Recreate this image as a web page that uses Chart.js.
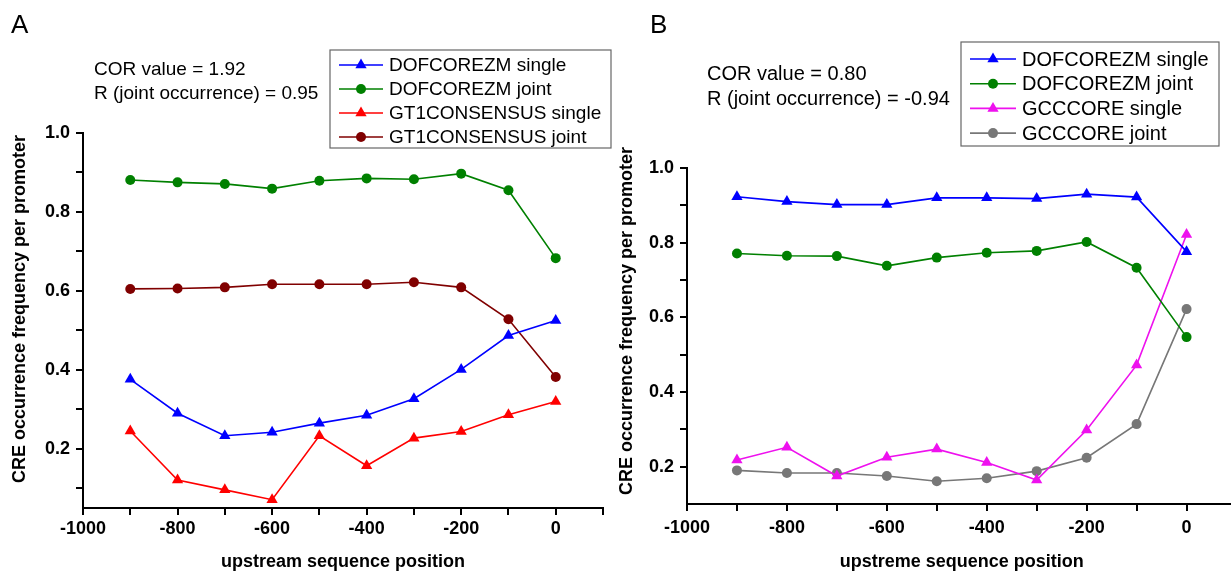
<!DOCTYPE html>
<html>
<head>
<meta charset="utf-8">
<script src="https://cdn.jsdelivr.net/npm/chart.js"></script>
<style>
    html, body { margin: 0; padding: 0; background: #fff; overflow: hidden; }
    #chartA { position: absolute; left: 0; top: 0; }
    #chartB { position: absolute; left: 615px; top: 0; }
</style>
</head>
<body>
<canvas id="chartA" width="615" height="573"></canvas>
<canvas id="chartB" width="628" height="573"></canvas>
<script>
// positions upstream (bp)
const positions = [-900, -800, -700, -600, -500, -400, -300, -200, -100, 0];

// panel A
const dofSingleA = [0.376, 0.290, 0.233, 0.242, 0.265, 0.285, 0.327, 0.401, 0.487, 0.525];
const dofJointA = [0.881, 0.875, 0.871, 0.859, 0.879, 0.885, 0.883, 0.897, 0.855, 0.683];
const gt1Single = [0.245, 0.121, 0.096, 0.071, 0.233, 0.157, 0.227, 0.244, 0.286, 0.320];
const gt1Joint = [0.605, 0.606, 0.609, 0.617, 0.617, 0.617, 0.622, 0.609, 0.528, 0.382];

// panel B
const dofSingleB = [0.923, 0.910, 0.902, 0.902, 0.920, 0.920, 0.918, 0.930, 0.922, 0.776];
const dofJointB = [0.771, 0.765, 0.764, 0.738, 0.760, 0.773, 0.778, 0.802, 0.733, 0.547];
const gccSingle = [0.218, 0.252, 0.175, 0.225, 0.247, 0.211, 0.164, 0.298, 0.472, 0.822];
const gccJoint = [0.190, 0.183, 0.183, 0.175, 0.161, 0.169, 0.188, 0.224, 0.314, 0.622];

// tick values
const xTicks = [-1000, -900, -800, -700, -600, -500, -400, -300, -200, -100, 0, 100];
const xTickLabels = ['-1000', '', '-800', '', '-600', '', '-400', '', '-200', '', '0', ''];
const yTicksA = [0.1, 0.2, 0.3, 0.4, 0.5, 0.6, 0.7, 0.8, 0.9, 1.0];
const yTicksB = [0.2, 0.3, 0.4, 0.5, 0.6, 0.7, 0.8, 0.9, 1.0];
const yTickLabels = { 0.2: '0.2', 0.4: '0.4', 0.6: '0.6', 0.8: '0.8', 1.0: '1.0' };

const FONT = '"Liberation Sans", Arial, sans-serif';

function toPoints(arr) {
    return positions.map(function (x, i) { return { x: x, y: arr[i] }; });
}

function series(label, arr, color, style) {
    return {
        label: label,
        data: toPoints(arr),
        borderColor: color,
        backgroundColor: color,
        pointBackgroundColor: color,
        pointBorderColor: color,
        pointBorderWidth: 0,
        borderWidth: 1.6,
        pointStyle: style,
        pointRadius: style === 'triangle' ? 6.5 : 5,
        pointHoverRadius: style === 'triangle' ? 6.5 : 5
    };
}

function drawMarker(ctx, style, x, y, color) {
    ctx.fillStyle = color;
    ctx.beginPath();
    if (style === 'triangle') {
        const r = 6.5;
        ctx.moveTo(x, y - r);
        ctx.lineTo(x + r * Math.sin(Math.PI * 2 / 3), y - r * Math.cos(Math.PI * 2 / 3));
        ctx.lineTo(x + r * Math.sin(Math.PI * 4 / 3), y - r * Math.cos(Math.PI * 4 / 3));
        ctx.closePath();
    } else {
        ctx.arc(x, y, 5, 0, Math.PI * 2);
    }
    ctx.fill();
}

// legend box, notes, y title and panel letter
const decorPlugin = {
    id: 'decor',
    afterDraw: function (chart) {
        const o = chart.options.plugins.decor;
        const ctx = chart.ctx;
        ctx.save();
        ctx.font = '26px ' + FONT;
        ctx.fillStyle = '#000';
        ctx.textBaseline = 'alphabetic';
        ctx.textAlign = 'left';
        ctx.fillText(o.letter, o.letterX, 33);

        // y axis title
        ctx.save();
        ctx.translate(o.yTitleX, o.yTitleY);
        ctx.rotate(-Math.PI / 2);
        ctx.font = 'bold 18px ' + FONT;
        ctx.textAlign = 'center';
        ctx.textBaseline = 'middle';
        ctx.fillText('CRE occurrence frequency per promoter', 0, 0);
        ctx.restore();

        ctx.font = o.fontSize + 'px ' + FONT;
        ctx.textBaseline = 'middle';
        o.notes.forEach(function (t, i) {
            ctx.fillText(t, o.noteX, o.noteY + i * o.noteGap);
        });

        const b = o.box;
        ctx.strokeStyle = '#666';
        ctx.lineWidth = 1.2;
        ctx.strokeRect(b.x, b.y, b.w, b.h);
        chart.data.datasets.forEach(function (ds, i) {
            const y = b.rowY + i * b.rowGap;
            ctx.strokeStyle = ds.borderColor;
            ctx.lineWidth = 1.6;
            ctx.beginPath();
            ctx.moveTo(b.lineX, y);
            ctx.lineTo(b.lineX + b.lineW, y);
            ctx.stroke();
            drawMarker(ctx, ds.pointStyle, b.lineX + b.lineW / 2, y, ds.borderColor);
            ctx.fillStyle = '#000';
            ctx.fillText(ds.label, b.textX, y + 1);
        });
        ctx.restore();
    }
};

function makeOptions(cfg) {
    return {
        responsive: false,
        animation: false,
        layout: { padding: { top: cfg.top, right: cfg.right, left: 0, bottom: 0 } },
        plugins: {
            legend: { display: false },
            tooltip: { enabled: false },
            decor: cfg.decor
        },
        scales: {
            x: {
                type: 'linear',
                min: -1000,
                max: 100,
                afterBuildTicks: function (scale) {
                    scale.ticks = xTicks.map(function (v) { return { value: v }; });
                },
                afterFit: function (scale) { scale.height = cfg.xHeight; },
                ticks: {
                    autoSkip: false,
                    maxRotation: 0,
                    padding: cfg.xPad,
                    color: '#000',
                    font: { family: FONT, size: 18, weight: 'bold' },
                    callback: function (v) { return xTickLabels[xTicks.indexOf(v)]; }
                },
                grid: { drawOnChartArea: false, tickLength: 7, color: '#000', lineWidth: 2 },
                border: { display: true, color: '#000', width: 2 },
                title: {
                    display: true,
                    text: cfg.xTitle,
                    color: '#000',
                    padding: 0,
                    font: { family: FONT, size: 18, weight: 'bold' }
                }
            },
            y: {
                min: cfg.yMin,
                max: 1.0,
                afterBuildTicks: function (scale) {
                    scale.ticks = cfg.yTicks.map(function (v) { return { value: v }; });
                },
                afterFit: function (scale) { scale.width = cfg.yWidth; },
                ticks: {
                    autoSkip: false,
                    padding: 6,
                    color: '#000',
                    font: { family: FONT, size: 18, weight: 'bold' },
                    callback: function (v) { return yTickLabels[v.toFixed(1) * 1] || ''; }
                },
                grid: { drawOnChartArea: false, tickLength: 7, color: '#000', lineWidth: 2 },
                border: { display: true, color: '#000', width: 2 }
            }
        }
    };
}

new Chart(document.getElementById('chartA').getContext('2d'), {
    type: 'line',
    data: {
        datasets: [
            series('DOFCOREZM single', dofSingleA, '#0000ff', 'triangle'),
            series('DOFCOREZM joint', dofJointA, '#008000', 'circle'),
            series('GT1CONSENSUS single', gt1Single, '#ff0000', 'triangle'),
            series('GT1CONSENSUS joint', gt1Joint, '#800000', 'circle')
        ]
    },
    options: makeOptions({
        top: 133, right: 12, xHeight: 65, yWidth: 83, yMin: 0.05, yTicks: yTicksA,
        xPad: 3, xTitle: 'upstream sequence position',
        decor: {
            letter: 'A', letterX: 11, fontSize: 19, yTitleX: 20, yTitleY: 309,
            notes: ['COR value = 1.92', 'R (joint occurrence) = 0.95'],
            noteX: 94, noteY: 70, noteGap: 24,
            box: { x: 330, y: 50, w: 281, h: 98, rowY: 65, rowGap: 24, lineX: 339, lineW: 44, textX: 389 }
        }
    }),
    plugins: [decorPlugin]
});

new Chart(document.getElementById('chartB').getContext('2d'), {
    type: 'line',
    data: {
        datasets: [
            series('DOFCOREZM single', dofSingleB, '#0000ff', 'triangle'),
            series('DOFCOREZM joint', dofJointB, '#008000', 'circle'),
            series('GCCCORE single', gccSingle, '#ee11ee', 'triangle'),
            series('GCCCORE joint', gccJoint, '#777777', 'circle')
        ]
    },
    options: makeOptions({
        top: 168, right: 0, xHeight: 69, yWidth: 72, yMin: 0.1, yTicks: yTicksB,
        xPad: 6, xTitle: 'upstreme sequence position',
        decor: {
            letter: 'B', letterX: 35, fontSize: 20, yTitleX: 12, yTitleY: 321,
            notes: ['COR value = 0.80', 'R (joint occurrence) = -0.94'],
            noteX: 92, noteY: 74, noteGap: 25,
            box: { x: 346, y: 42, w: 258, h: 104, rowY: 59, rowGap: 24.7, lineX: 355, lineW: 46, textX: 407 }
        }
    }),
    plugins: [decorPlugin]
});
</script>
</body>
</html>
